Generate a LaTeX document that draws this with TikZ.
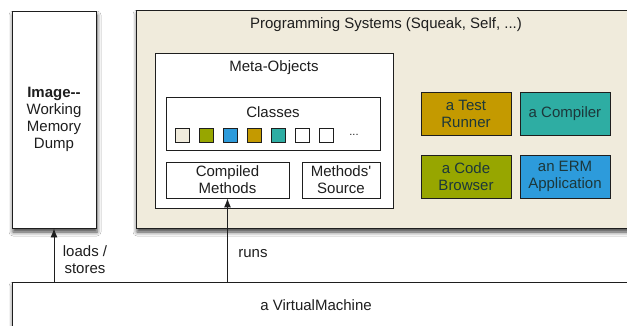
\documentclass[tikz,border=0pt]{standalone}
\usepackage{fontspec}
\setmainfont{Liberation Sans}[Ligatures=TeXOff]
\usetikzlibrary{shadows.blur,arrows.meta}
\definecolor{sysbg}{RGB}{240,235,220}
\definecolor{gold}{RGB}{196,154,0}
\definecolor{teal2}{RGB}{46,173,163}
\definecolor{olive2}{RGB}{151,166,0}
\definecolor{blue2}{RGB}{45,155,219}
\definecolor{ink}{RGB}{30,30,30}
\definecolor{boxtext}{RGB}{28,55,58}
\tikzset{
  every node/.style={font=\fontsize{15}{17}\selectfont, text=ink},
  frame/.style={draw=ink, line width=0.9pt, inner sep=0pt},
  shade3d/.style={blur shadow={shadow xshift=1pt, shadow yshift=-4pt,
      shadow blur radius=4pt, shadow opacity=75}},
  whitebox/.style={frame, fill=white, align=center},
  appbox/.style={frame, align=center, minimum width=90pt, minimum height=43pt,
      text=boxtext},
  classsq/.style={frame, minimum width=14pt, minimum height=14pt},
  arr/.style={draw=ink, line width=0.9pt, -{Latex[length=9pt,width=7pt]}},
}
\begin{document}
\begin{tikzpicture}[x=1pt, y=-1pt]
  \useasboundingbox (0,0) rectangle (627,326);
  \clip (0,0) rectangle (627,326);
  \fill[white] (0,0) rectangle (627,326);

  % working memory image
  \node[whitebox, shade3d, minimum width=84pt, minimum height=217pt] (img) at (54,119.5)
    {\textbf{Image-{}-}\\Working\\Memory\\Dump};

  % programming system container
  \node[frame, fill=sysbg, shade3d, minimum width=564pt, minimum height=218pt] (sys) at (418,119) {};
  \node (systitle) at (386,25) {Programming Systems (Squeak, Self, ...)};

  % meta-objects
  \node[whitebox, minimum width=238pt, minimum height=155pt] (meta) at (274,130.5) {};
  \node (metatitle) at (274,68) {Meta-Objects};
  \node[whitebox, minimum width=214pt, minimum height=53pt] (classes) at (273,123.5) {};
  \node (classtitle) at (273,112) {Classes};
  \node[classsq, fill=sysbg]  (c1) at (182,135) {};
  \node[classsq, fill=olive2] (c2) at (206,135) {};
  \node[classsq, fill=blue2]  (c3) at (230,135) {};
  \node[classsq, fill=gold]   (c4) at (254,135) {};
  \node[classsq, fill=teal2]  (c5) at (278,135) {};
  \node[classsq, fill=white]  (c6) at (302,135) {};
  \node[classsq, fill=white]  (c7) at (326,135) {};
  \node[font=\fontsize{11}{13}\selectfont] (cdots) at (354,135) {...};
  \node[whitebox, minimum width=123pt, minimum height=36pt] (comp) at (227.5,180)
    {Compiled\\Methods};
  \node[whitebox, minimum width=78pt, minimum height=36pt] (src) at (341,180)
    {Methods'\\Source};

  % applications
  \node[appbox, fill=gold]   (runner)   at (466,113.5) {a Test\\Runner};
  \node[appbox, fill=teal2]  (compiler) at (565,113.5) {a Compiler};
  \node[appbox, fill=olive2] (browser)  at (466,176.5) {a Code\\Browser};
  \node[appbox, fill=blue2]  (erm)      at (565,176.5) {an ERM\\Application};

  % virtual machine
  \node[frame, fill=white, shade3d, minimum width=688pt, minimum height=78pt] (vm) at (356,321) {};
  \node (vmtext) at (316,305) {a VirtualMachine};

  % connectors
  \draw[arr] (img.south |- vm.north) -- (img.south);
  \draw[arr] (comp.south |- vm.north) -- (comp.south);
  \node[align=center] (loads) at (85,260) {loads /\\stores};
  \node (runs) at (253,254) {runs};
\end{tikzpicture}
\end{document}
